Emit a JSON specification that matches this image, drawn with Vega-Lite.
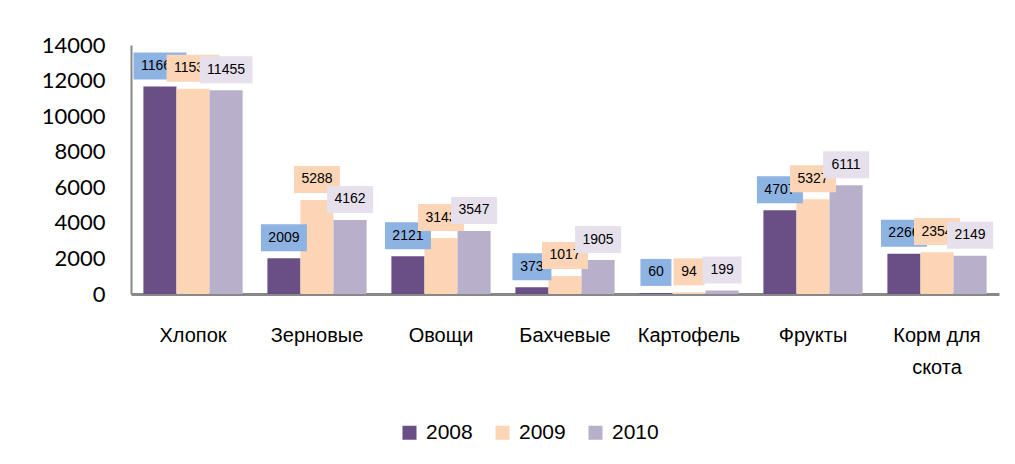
{
  "$schema": "https://vega.github.io/schema/vega-lite/v6.json",
  "autosize": "none",
  "width": 868,
  "height": 249,
  "padding": {"left": 131, "top": 45, "right": 16, "bottom": 170},
  "background": "white",
  "config": {"view": {"stroke": null}},
  "data": {"values": [
    {"cat": "Хлопок", "year": "2008", "v": 11667},
    {"cat": "Хлопок", "year": "2009", "v": 11535},
    {"cat": "Хлопок", "year": "2010", "v": 11455},
    {"cat": "Зерновые", "year": "2008", "v": 2009},
    {"cat": "Зерновые", "year": "2009", "v": 5288},
    {"cat": "Зерновые", "year": "2010", "v": 4162},
    {"cat": "Овощи", "year": "2008", "v": 2121},
    {"cat": "Овощи", "year": "2009", "v": 3143},
    {"cat": "Овощи", "year": "2010", "v": 3547},
    {"cat": "Бахчевые", "year": "2008", "v": 373},
    {"cat": "Бахчевые", "year": "2009", "v": 1017},
    {"cat": "Бахчевые", "year": "2010", "v": 1905},
    {"cat": "Картофель", "year": "2008", "v": 60},
    {"cat": "Картофель", "year": "2009", "v": 94},
    {"cat": "Картофель", "year": "2010", "v": 199},
    {"cat": "Фрукты", "year": "2008", "v": 4707},
    {"cat": "Фрукты", "year": "2009", "v": 5327},
    {"cat": "Фрукты", "year": "2010", "v": 6111},
    {"cat": "Корм для скота", "year": "2008", "v": 2266},
    {"cat": "Корм для скота", "year": "2009", "v": 2354},
    {"cat": "Корм для скота", "year": "2010", "v": 2149}
  ]},
  "encoding": {
    "x": {
      "field": "cat", "type": "nominal", "sort": null,
      "scale": {"paddingInner": 0.2, "paddingOuter": 0.1},
      "axis": {
        "title": null, "labelAngle": 0, "ticks": false,
        "domainColor": "#888888", "domainWidth": 3,
        "labelFont": "Liberation Sans", "labelFontSize": 20, "labelColor": "#000000",
        "labelPadding": 31, "labelLineHeight": 32, "labelBaseline": "top",
        "labelExpr": "datum.value == 'Корм для скота' ? ['Корм для', 'скота'] : datum.value"
      }
    },
    "xOffset": {"field": "year", "type": "nominal", "scale": {"domain": ["2008", "2009", "2010"], "paddingInner": 0, "paddingOuter": 0}},
    "y": {
      "field": "v", "type": "quantitative",
      "scale": {"domain": [0, 14000], "nice": false},
      "axis": {
        "title": null, "values": [0, 2000, 4000, 6000, 8000, 10000, 12000, 14000],
        "format": "d", "grid": false, "ticks": false,
        "domainColor": "#888888", "domainWidth": 2,
        "labelFont": "Lato", "labelFontSize": 22, "labelColor": "#000000", "labelPadding": 26
      }
    }
  },
  "layer": [
    {
      "mark": {"type": "bar"},
      "encoding": {
        "color": {
          "field": "year", "type": "nominal",
          "scale": {"domain": ["2008", "2009", "2010"], "range": ["#6A4F86", "#FCD5B4", "#B8AFCA"]},
          "legend": {
            "title": null, "orient": "none", "direction": "horizontal",
            "legendX": 268, "legendY": 377, "padding": 0,
            "symbolType": "square", "symbolSize": 196, "symbolStrokeWidth": 0,
            "labelFont": "Liberation Sans", "labelFontSize": 21, "labelColor": "#000000",
            "labelOffset": 6, "columnPadding": 19, "labelLimit": 200
          }
        }
      }
    },
    {
      "transform": [{"filter": "datum.year == '2008'"}],
      "mark": {"type": "point", "filled": true, "opacity": 1, "size": 2916, "color": "#8DB3E2", "strokeWidth": 0},
      "encoding": {
        "shape": {"field": "v", "type": "quantitative", "legend": null,
          "scale": {"type": "threshold", "domain": [100, 1000, 10000], "range": [
            "M-0.574,-1.26H0.574V-0.26H-0.574Z",
            "M-0.722,-1.26H0.722V-0.26H-0.722Z",
            "M-0.852,-1.26H0.852V-0.26H-0.852Z",
            "M-0.98,-1.26H0.98V-0.26H-0.98Z"]}}
      }
    },
    {
      "transform": [{"filter": "datum.year == '2008'"}],
      "mark": {"type": "text", "dy": -20.5, "baseline": "middle", "font": "Liberation Sans", "fontSize": 14, "color": "#000000"},
      "encoding": {"text": {"field": "v", "type": "quantitative", "format": "d"}}
    },
    {
      "transform": [{"filter": "datum.year == '2009'"}],
      "mark": {"type": "point", "filled": true, "opacity": 1, "size": 2916, "color": "#FBD5B5", "strokeWidth": 0},
      "encoding": {
        "shape": {"field": "v", "type": "quantitative", "legend": null,
          "scale": {"type": "threshold", "domain": [100, 1000, 10000], "range": [
            "M-0.574,-1.26H0.574V-0.26H-0.574Z",
            "M-0.722,-1.26H0.722V-0.26H-0.722Z",
            "M-0.852,-1.26H0.852V-0.26H-0.852Z",
            "M-0.98,-1.26H0.98V-0.26H-0.98Z"]}}
      }
    },
    {
      "transform": [{"filter": "datum.year == '2009'"}],
      "mark": {"type": "text", "dy": -20.5, "baseline": "middle", "font": "Liberation Sans", "fontSize": 14, "color": "#000000"},
      "encoding": {"text": {"field": "v", "type": "quantitative", "format": "d"}}
    },
    {
      "transform": [{"filter": "datum.year == '2010'"}],
      "mark": {"type": "point", "filled": true, "opacity": 1, "size": 2916, "color": "#E5E0EC", "strokeWidth": 0},
      "encoding": {
        "shape": {"field": "v", "type": "quantitative", "legend": null,
          "scale": {"type": "threshold", "domain": [100, 1000, 10000], "range": [
            "M-0.574,-1.26H0.574V-0.26H-0.574Z",
            "M-0.722,-1.26H0.722V-0.26H-0.722Z",
            "M-0.852,-1.26H0.852V-0.26H-0.852Z",
            "M-0.98,-1.26H0.98V-0.26H-0.98Z"]}}
      }
    },
    {
      "transform": [{"filter": "datum.year == '2010'"}],
      "mark": {"type": "text", "dy": -20.5, "baseline": "middle", "font": "Liberation Sans", "fontSize": 14, "color": "#000000"},
      "encoding": {"text": {"field": "v", "type": "quantitative", "format": "d"}}
    }
  ]
}
